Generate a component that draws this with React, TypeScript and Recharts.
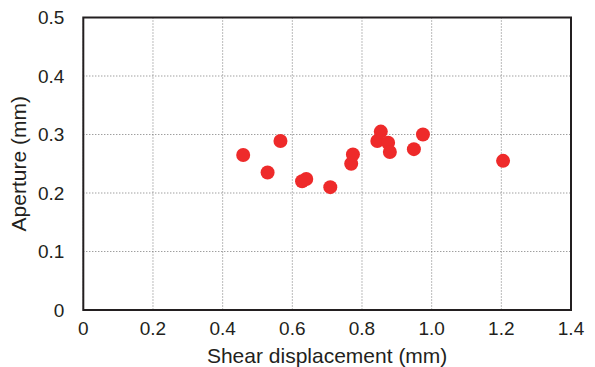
import React from "react";
import { ScatterChart, Scatter, XAxis, YAxis, CartesianGrid, ReferenceArea } from "recharts";

const shearDisplacement = [0.459, 0.529, 0.566, 0.628, 0.64, 0.709, 0.769, 0.774, 0.844, 0.854, 0.875, 0.88, 0.949, 0.975, 1.205];
const aperture = [0.265, 0.235, 0.289, 0.22, 0.224, 0.21, 0.25, 0.266, 0.289, 0.305, 0.286, 0.27, 0.275, 0.3, 0.255];
const xTicks = [0, 0.2, 0.4, 0.6, 0.8, 1.0, 1.2, 1.4];
const yTicks = [0, 0.1, 0.2, 0.3, 0.4, 0.5];

const data = shearDisplacement.map((x, i) => ({ x, y: aperture[i] }));
const fmt = (v: number) => (v === 0 ? "0" : v.toFixed(1));
const ink = "#231f20";
const font = "Liberation Sans, Arial, Helvetica, sans-serif";

const Dot = (props: any) => {
  const { cx, cy } = props;
  return <circle cx={cx} cy={cy} r={7} fill="#ee2a2a" />;
};

export default function App() {
  return (
    <div style={{ position: "absolute", left: 0, top: 0, width: 595, height: 367, background: "#fff" }}>
      <ScatterChart width={595} height={367} margin={{ top: 17.5, right: 24, bottom: 0, left: 0 }}>
        <CartesianGrid stroke="#777" strokeDasharray="1 2" strokeWidth={1} />
        <XAxis
          type="number"
          dataKey="x"
          domain={[0, 1.4]}
          ticks={xTicks}
          tickFormatter={fmt}
          height={57}
          axisLine={false}
          tickLine={false}
          tick={{ fill: ink, fontSize: 19, fontFamily: font }}
          tickMargin={6}
          label={{ value: "Shear displacement (mm)", position: "insideBottom", offset: 4, fill: ink, fontSize: 21, fontFamily: font }}
        />
        <YAxis
          type="number"
          dataKey="y"
          domain={[0, 0.5]}
          ticks={yTicks}
          tickFormatter={fmt}
          width={83.3}
          axisLine={false}
          tickLine={false}
          tick={{ fill: ink, fontSize: 19, fontFamily: font }}
          tickMargin={13}
          label={{ value: "Aperture (mm)", angle: -90, position: "insideLeft", offset: 19, fill: ink, fontSize: 21, fontFamily: font, style: { textAnchor: "middle" } }}
        />
        <ReferenceArea x1={0} x2={1.4} y1={0} y2={0.5} fill="none" stroke={ink} strokeWidth={2} ifOverflow="visible" />
        <Scatter data={data} shape={<Dot />} isAnimationActive={false} />
      </ScatterChart>
    </div>
  );
}
